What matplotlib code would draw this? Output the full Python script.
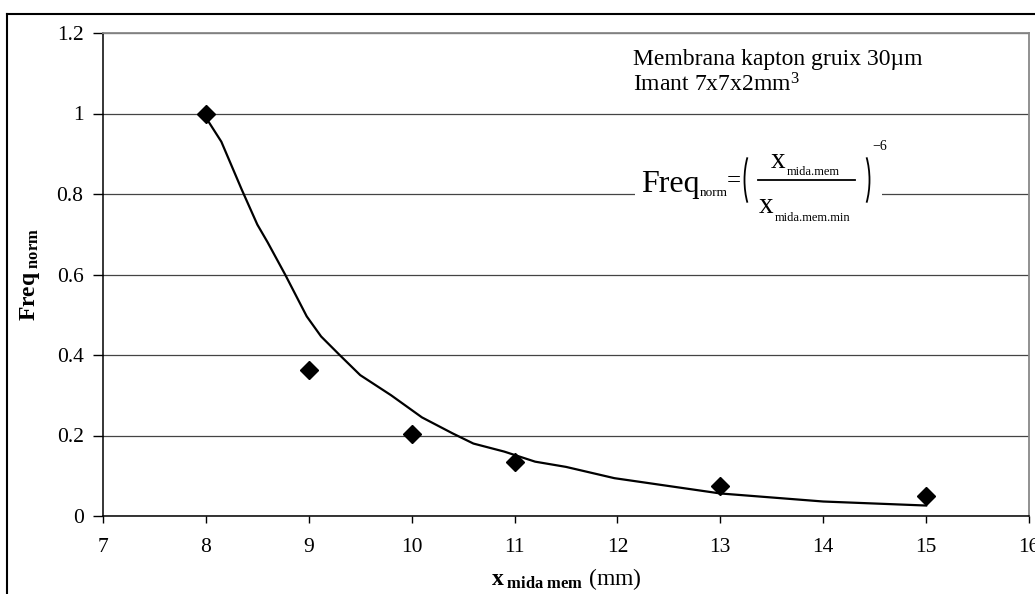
import matplotlib
matplotlib.use("Agg")
import matplotlib.pyplot as plt
from matplotlib.lines import Line2D
from matplotlib.patches import Arc, Rectangle

plt.rcParams['font.family'] = ['Liberation Serif', 'DejaVu Serif']
plt.rcParams['mathtext.fontset'] = 'custom'
plt.rcParams['mathtext.rm'] = 'Liberation Serif'
plt.rcParams['mathtext.it'] = 'Liberation Serif:italic'
plt.rcParams['mathtext.bf'] = 'Liberation Serif:bold'

# measured points
x_mida = [8, 9, 10, 11, 13, 15]
freq_norm = [1.0, 0.363, 0.204, 0.134, 0.075, 0.05]

# fitted curve (x/xmin)^-6
x_fit = [8.0, 8.15, 8.35, 8.5, 8.6, 8.77, 8.98, 9.12, 9.3, 9.5, 9.8, 10.1,
         10.4, 10.6, 10.9, 11.2, 11.5, 11.97, 13.0, 14.0, 15.0]
freq_fit = [0.99, 0.93, 0.81, 0.724, 0.68, 0.60, 0.496, 0.446, 0.40, 0.35,
            0.30, 0.245, 0.205, 0.18, 0.16, 0.135, 0.122, 0.094, 0.056, 0.036, 0.026]

W, H = 1035, 594
def px(x, y):
    # pixel position (from top-left) -> figure fraction
    return x / W, 1 - y / H

fig = plt.figure(figsize=(W/100, H/100), dpi=100)
ax = fig.add_axes([103/W, 1 - 516/H, (1029-103)/W, (516-33)/H])

ax.plot(x_fit, freq_fit, color='black', lw=1.6, zorder=3)
ax.plot(x_mida, freq_norm, 'D', color='black', markersize=9.5, zorder=4)

ax.set_xlim(7, 16)
ax.set_ylim(0, 1.2)
ax.set_xticks(range(7, 17))
ax.set_yticks([0, 0.2, 0.4, 0.6, 0.8, 1, 1.2])
ax.set_yticklabels(['0', '0.2', '0.4', '0.6', '0.8', '1', '1.2'])
ax.yaxis.grid(True, color='#444444', lw=0.9)
ax.set_axisbelow(True)
ax.tick_params(axis='y', direction='out', length=7, width=1, pad=7, labelsize=15.5)
ax.tick_params(axis='x', direction='out', length=5, width=1, pad=11, labelsize=15.5)
for s in ['left', 'bottom']:
    ax.spines[s].set_color('black')
    ax.spines[s].set_linewidth(1.1)
for s in ['top', 'right']:
    ax.spines[s].set_color('#888888')
    ax.spines[s].set_linewidth(1.3)

ax.set_xlabel(r'$\mathbf{x}_{\ \mathbf{mida\ mem}}$ (mm)', fontsize=17)
ax.xaxis.set_label_coords(0.5, -0.104)
ax.set_ylabel(r'$\mathbf{Freq}_{\ \mathbf{norm}}$', fontsize=17)
ax.yaxis.set_label_coords(-0.066, 0.5)

# annotation
fig.text(*px(633, 65), 'Membrana kapton gruix 30µm', fontsize=17, va='baseline')
fig.text(*px(633, 91), 'Imant 7x7x2mm$^3$', fontsize=17, va='baseline')

# formula, built from pieces on a white patch
fig.add_artist(Rectangle(px(635, 230), (882-635)/W, 95/H, transform=fig.transFigure,
                         facecolor='white', edgecolor='none', zorder=2))
fig.text(*px(641, 192), 'Freq', fontsize=23, va='baseline', zorder=3)
fig.text(*px(700, 196), 'norm', fontsize=9.5, va='baseline', zorder=3)
fig.text(*px(727, 181), '=', fontsize=18, va='center', zorder=3)
fig.text(*px(771, 168), 'x', fontsize=21, va='baseline', zorder=3)
fig.text(*px(787, 175), 'mida.mem', fontsize=9, va='baseline', zorder=3)
fig.text(*px(759, 213), 'x', fontsize=21, va='baseline', zorder=3)
fig.text(*px(775, 221), 'mida.mem.min', fontsize=9, va='baseline', zorder=3)
fig.text(*px(872, 150), '\u22126', fontsize=10, va='baseline', zorder=3)
fig.add_artist(Line2D([758/W, 855/W], [1 - 180/H, 1 - 180/H], color='black', lw=1.3, zorder=3))
# big parentheses
fig.add_artist(Arc(px(765, 180), 41/W, 88/H, theta1=114, theta2=246,
                   transform=fig.transFigure, color='black', lw=1.3, zorder=3))
fig.add_artist(Arc(px(849, 180), 41/W, 88/H, theta1=-66, theta2=66,
                   transform=fig.transFigure, color='black', lw=1.3, zorder=3))

# outer chart frame
fig.add_artist(Line2D([7/W, 7/W], [0, 1 - 14/H], color='black', lw=1.5))
fig.add_artist(Line2D([7/W, 1], [1 - 14/H, 1 - 14/H], color='black', lw=1.5))

fig.savefig('out.png', dpi=100)
